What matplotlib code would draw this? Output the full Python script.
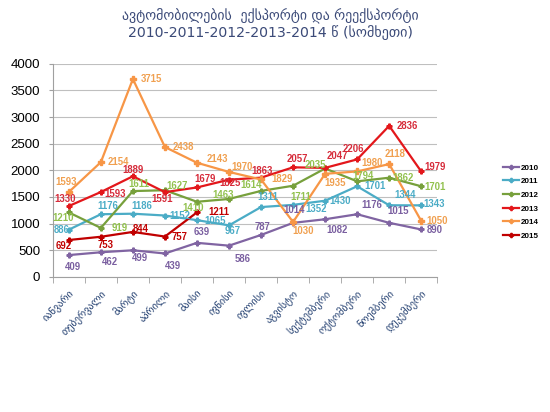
import matplotlib
matplotlib.use("Agg")
import matplotlib.pyplot as plt
from matplotlib.lines import Line2D

# თვეები
months = ["იანვარი", "თებერვალი", "მარტი", "აპრილი", "მაისი", "ივნისი",
          "ივლისი", "აგვისტო", "სექტემბერი", "ოქტომბერი", "ნოემბერი", "დეკემბერი"]

years = ["2010", "2011", "2012", "2013", "2014", "2015"]

v2010 = [409, 462, 499, 439, 639, 586, 787, 1014, 1082, 1176, 1015, 890]
v2011 = [886, 1176, 1186, 1152, 1065, 967, 1311, 1352, 1430, 1701, 1344, 1343]
v2012 = [1210, 919, 1611, 1627, 1410, 1463, 1614, 1711, 2035, 1794, 1862, 1701]
v2013 = [1330, 1593, 1889, 1591, 1679, 1825, 1863, 2057, 2047, 2206, 2836, 1979]
v2014 = [1593, 2154, 3715, 2438, 2143, 1970, 1829, 1030, 1935, 1980, 2118, 1050]
v2015 = [692, 753, 844, 757, 1211]

series = [v2010, v2011, v2012, v2013, v2014, v2015]
line_colors = ["#8064A2", "#4BACC6", "#77A03C", "#E3171B", "#F79646", "#C00000"]
label_colors = ["#7A5FA0", "#4BACC6", "#92C14E", "#D62B3A", "#F0A050", "#C00000"]

# label offsets in pixels (dx, dy up)
offs = [
    [(4, -12), (9, -10), (7, -8), (8, -13), (5, 11), (14, -13), (1, 8), (1, 13), (12, -11), (15, 9), (9, 12), (14, -1)],
    [(-7, 0), (7, 8), (9, 8), (15, 0), (18, -1), (4, -6), (7, 10), (23, -4), (15, 0), (18, 0), (16, 10), (13, 1)],
    [(-6, -6), (19, 0), (6, 7), (12, 4), (-4, -6), (-6, 4), (-10, 6), (8, -11), (-10, 3), (6, 5), (14, 0), (14, -1)],
    [(-4, 7), (14, -2), (0, 6), (-3, -7), (8, 8), (1, -3), (1, 7), (4, 8), (12, 12), (-4, 10), (18, 0), (14, 4)],
    [(-3, 10), (18, 0), (19, 0), (18, 0), (20, 4), (13, 5), (21, 0), (10, -9), (10, -9), (15, 8), (6, 10), (16, 0)],
    [(-5, -6), (5, -8), (8, 3), (15, 0), (22, 0)],
]

plt.rcParams["font.family"] = ["Liberation Sans", "DejaVu Sans"]

fig = plt.figure(figsize=(5.5, 4.12), dpi=100)
ax = fig.add_axes([0.096, 0.328, 0.699, 0.517])

for i, vals in enumerate(series):
    x = list(range(len(vals)))
    ms = 4.5 if i == 4 else 3.5
    ax.plot(x, vals, color=line_colors[i], lw=1.6, marker="P", ms=ms, zorder=3)
    for j, v in enumerate(vals):
        dx, dy = offs[i][j]
        ax.annotate(str(v), (j, v), xytext=(dx, dy), textcoords="offset pixels",
                    ha="center", va="center", fontsize=6.9, fontweight="bold",
                    color=label_colors[i], zorder=4)

ax.set_ylim(0, 4000)
ax.set_xlim(-0.5, 11.5)
ax.set_yticks(range(0, 4001, 500))
ax.tick_params(axis="y", labelsize=9.5, length=3, color="#A0A0A0", pad=6)
ax.yaxis.grid(True, color="#BFBFBF", lw=0.8)
ax.set_axisbelow(True)

ax.set_xticks(range(12))
ax.set_xticklabels(months, rotation=45, ha="right", rotation_mode="anchor",
                   fontsize=7.4, color="#1F3C6E", family="DejaVu Sans")
ax.tick_params(axis="x", length=0, pad=8)
ax.set_xticks([k - 0.5 for k in range(13)], minor=True)
ax.tick_params(axis="x", which="minor", length=4, color="#A0A0A0")

for s in ["top", "right"]:
    ax.spines[s].set_visible(False)
ax.spines["left"].set_color("#A0A0A0")
ax.spines["bottom"].set_color("#A0A0A0")

handles = [Line2D([], [], color=line_colors[i], lw=1.6, marker="P", ms=3) for i in range(6)]
fig.legend(handles, years, loc="upper left", bbox_to_anchor=(0.908, 0.612),
           frameon=False, handlelength=1.9, labelspacing=0.75, borderpad=0,
           handletextpad=0.25, prop={"weight": "bold", "size": 5.8})

fig.text(0.491, 0.961, "ავტომობილების  ექსპორტი და რეექსპორტი", ha="center", va="center",
         fontsize=10, color="#3B4A78", family="DejaVu Sans")
fig.text(0.491, 0.92, "2010-2011-2012-2013-2014 წ (სომხეთი)", ha="center", va="center",
         fontsize=10.2, color="#3B4A78", family="DejaVu Sans")

fig.savefig("out.png", dpi=100)
